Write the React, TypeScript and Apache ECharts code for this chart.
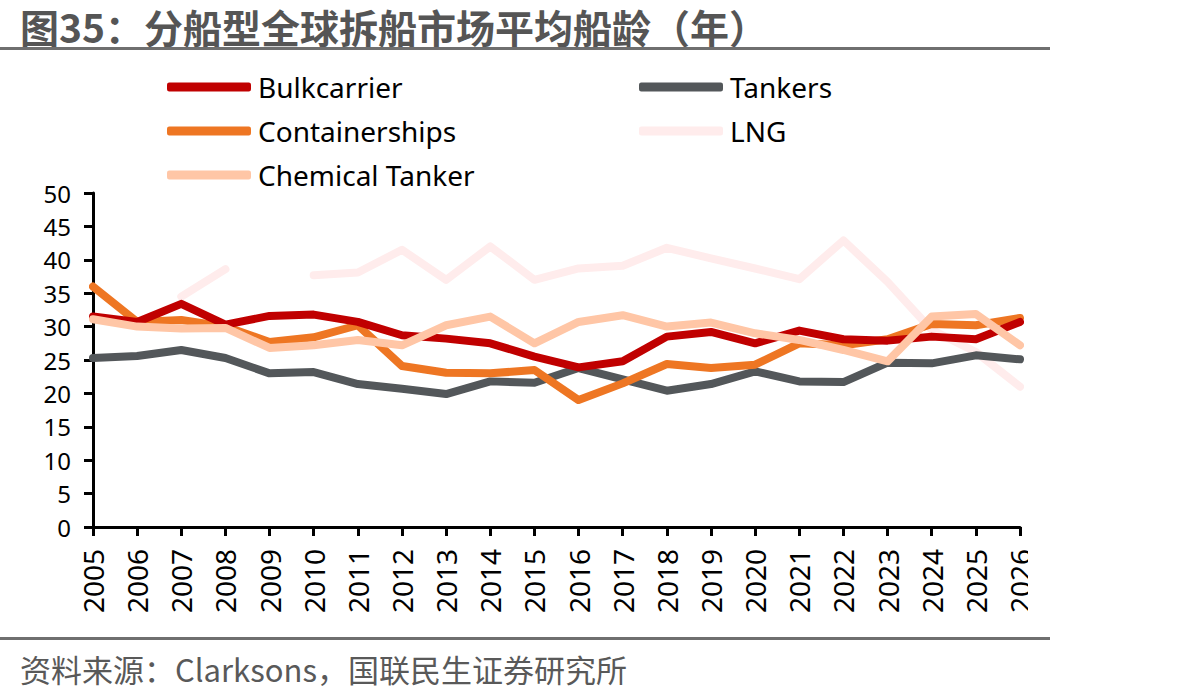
import React, { useEffect, useRef } from "react";
import * as echarts from "echarts";

const years = ["2005","2006","2007","2008","2009","2010","2011","2012","2013","2014","2015","2016","2017","2018","2019","2020","2021","2022","2023","2024","2025","2026"];
const bulkcarrier = [31.5,30.7,33.4,30.3,31.6,31.8,30.7,28.7,28.2,27.5,25.5,23.9,24.8,28.5,29.2,27.5,29.4,28.1,27.9,28.5,28.1,30.7];
const tankers = [25.3,25.6,26.5,25.3,23.0,23.2,21.4,20.7,19.9,21.8,21.6,23.8,22.1,20.4,21.4,23.3,21.8,21.7,24.6,24.5,25.7,25.1];
const containerships = [36.0,30.7,31.0,30.0,27.7,28.4,30.2,24.1,23.1,23.0,23.5,19.0,21.5,24.4,23.8,24.3,27.5,27.2,28.1,30.4,30.2,31.3];
const lng: (number | null)[] = [null,null,34.5,38.6,null,37.7,38.1,41.5,37.0,42.0,37.0,38.7,39.1,41.8,40.2,38.7,37.1,42.9,36.7,29.5,26.2,21.0];
const chemicalTanker = [31.1,30.0,29.7,29.8,26.8,27.2,28.0,27.2,30.2,31.5,27.5,30.7,31.7,30.0,30.6,29.0,28.0,26.5,24.8,31.5,31.9,27.2];
const yTicks = [0, 5, 10, 15, 20, 25, 30, 35, 40, 45, 50];

const title = "图35：分船型全球拆船市场平均船龄（年）";
const source = "资料来源：Clarksons，国联民生证券研究所";

export default function App() {
  const ref = useRef<HTMLDivElement>(null);
  useEffect(() => {
    document.body.style.margin = "0";
    const chart = echarts.init(ref.current!, null, { renderer: "svg" });
    const mk = (name: string, data: (number | null)[], color: string) => ({
      name,
      type: "line",
      data,
      symbol: "none",
      connectNulls: false,
      lineStyle: { color, width: 8, cap: "round", join: "round" },
      itemStyle: { color },
    });
    const legendText = { fontFamily: "Noto Sans", fontSize: 28, color: "#000", lineHeight: 30, padding: [0, 0, 0, 2] };
    chart.setOption({
      animation: false,
      backgroundColor: "#fff",
      grid: { left: 93, right: 179, top: 193, bottom: 173, containLabel: false },
      legend: [
        {
          orient: "vertical", left: 162, top: 67, itemWidth: 84, itemHeight: 9, itemGap: 14,
          icon: "roundRect", textStyle: legendText,
          data: ["Bulkcarrier", "Containerships", "Chemical Tanker"],
        },
        {
          orient: "vertical", left: 634, top: 67, itemWidth: 84, itemHeight: 9, itemGap: 14,
          icon: "roundRect", textStyle: legendText,
          data: ["Tankers", "LNG"],
        },
      ],
      xAxis: {
        type: "category",
        data: years,
        boundaryGap: false,
        axisLine: { lineStyle: { color: "#000", width: 3 } },
        axisTick: { alignWithLabel: true, length: 9, lineStyle: { color: "#000", width: 3 } },
        axisLabel: { rotate: 90, fontSize: 28, color: "#000", fontFamily: "Noto Sans", margin: 22, interval: 0 },
      },
      yAxis: {
        type: "value",
        min: yTicks[0],
        max: yTicks[yTicks.length - 1],
        interval: 5,
        axisLine: { show: true, lineStyle: { color: "#000", width: 3 } },
        axisTick: { show: true, length: 9, lineStyle: { color: "#000", width: 3 } },
        splitLine: { show: false },
        axisLabel: { fontSize: 24, color: "#000", fontFamily: "Noto Sans", margin: 22 },
      },
      series: [
        mk("LNG", lng, "#FFECEC"),
        mk("Tankers", tankers, "#53575A"),
        mk("Containerships", containerships, "#EE7623"),
        mk("Bulkcarrier", bulkcarrier, "#C00000"),
        mk("Chemical Tanker", chemicalTanker, "#FFC6A6"),
      ],
      graphic: [
        {
          type: "text", x: 20, y: 6,
          style: { text: title, fontSize: 39, fontWeight: "bold", fill: "#555", fontFamily: "Noto Sans CJK SC", verticalAlign: "top" },
        },
        { type: "rect", shape: { x: 0, y: 47, width: 1050, height: 3 }, style: { fill: "#6f6f6f" } },
        { type: "rect", shape: { x: 0, y: 637, width: 1050, height: 3 }, style: { fill: "#6f6f6f" } },
        {
          type: "text", x: 20, y: 668,
          style: { text: source, fontSize: 31, fill: "#595959", fontFamily: "Noto Sans CJK SC", verticalAlign: "middle" },
        },
        { type: "rect", z: 100, shape: { x: 1028, y: 540, width: 40, height: 90 }, style: { fill: "#fff" } },
      ],
    });
    return () => chart.dispose();
  }, []);
  return <div ref={ref} style={{ width: 1199, height: 700 }} />;
}
